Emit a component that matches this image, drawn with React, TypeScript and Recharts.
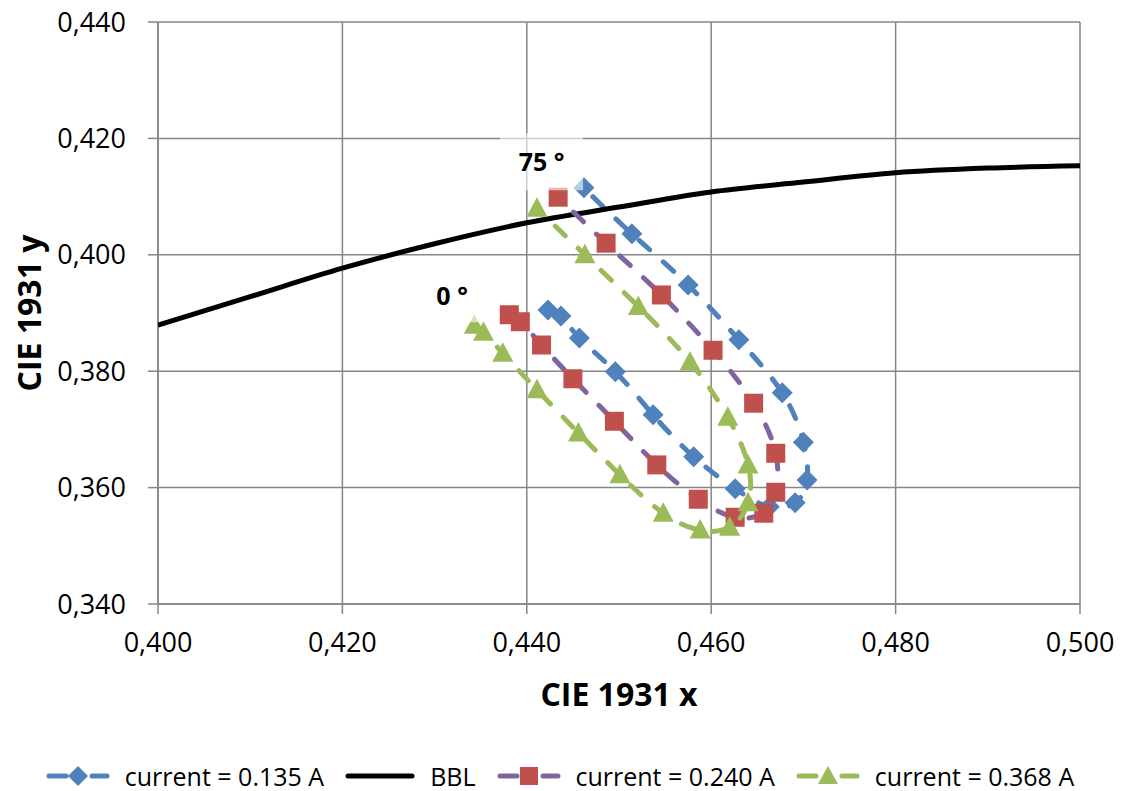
import React from 'react';
import { ScatterChart, Scatter, XAxis, YAxis, CartesianGrid, Legend, ReferenceArea } from 'recharts';

const BLUE = '#4F81BD';
const RED = '#C0504D';
const PURPLE = '#8064A2';
const GREEN = '#9BBB59';
const GRID = '#868686';
const FONT = '"Open Sans", "DejaVu Sans", sans-serif';

const xTicks = [0.4, 0.42, 0.44, 0.46, 0.48, 0.5];
const yTicks = [0.34, 0.36, 0.38, 0.4, 0.42, 0.44];

// current = 0.135 A
const x135 = [0.4423, 0.4437, 0.4457, 0.4496, 0.4537, 0.4581, 0.4626, 0.4663, 0.4691, 0.4704, 0.47, 0.4677, 0.463, 0.4575, 0.4514, 0.4462];
const y135 = [0.3905, 0.3895, 0.3857, 0.3799, 0.3725, 0.3653, 0.3598, 0.3567, 0.3574, 0.3613, 0.3678, 0.3763, 0.3854, 0.3948, 0.4036, 0.4115];

// current = 0.240 A
const x240 = [0.4381, 0.4393, 0.4416, 0.445, 0.4495, 0.4541, 0.4586, 0.4626, 0.4657, 0.467, 0.467, 0.4646, 0.4602, 0.4546, 0.4486, 0.4434];
const y240 = [0.3897, 0.3885, 0.3845, 0.3787, 0.3714, 0.3639, 0.358, 0.3549, 0.3556, 0.3592, 0.3659, 0.3745, 0.3836, 0.3931, 0.402, 0.4099];

// current = 0.368 A
const x368 = [0.4343, 0.4353, 0.4374, 0.4411, 0.4456, 0.4501, 0.4548, 0.4588, 0.462, 0.464, 0.464, 0.4618, 0.4577, 0.4521, 0.4463, 0.4411];
const y368 = [0.3879, 0.3867, 0.3831, 0.3768, 0.3694, 0.3622, 0.3556, 0.3527, 0.3532, 0.3574, 0.3639, 0.3721, 0.3816, 0.3911, 0.4, 0.408];

// BBL (black body locus)
const xBBL = [0.4, 0.41, 0.42, 0.43, 0.44, 0.45, 0.46, 0.47, 0.48, 0.49, 0.5];
const yBBL = [0.3879, 0.3928, 0.3977, 0.4019, 0.4055, 0.4082, 0.4108, 0.4125, 0.4141, 0.4149, 0.4153];

// angle annotations (data coordinates)
const annotText = ['75 °', '0 °'];
const annotX1 = [0.4371, 0.428];
const annotX2 = [0.4461, 0.4358];
const annotY1 = [0.4111, 0.3884];
const annotY2 = [0.4209, 0.3975];

const toPts = (xs: number[], ys: number[]) => xs.map((x, i) => ({ x, y: ys[i] }));

const fmt = (v: number) => v.toFixed(3).replace('.', ',');

const Diamond = (p: any) => {
  const { cx, cy } = p;
  const r = 10.5;
  return <polygon points={`${cx},${cy - r} ${cx + r},${cy} ${cx},${cy + r} ${cx - r},${cy}`} fill={BLUE} />;
};
const Square = (p: any) => {
  const { cx, cy } = p;
  const h = 9.5;
  return <rect x={cx - h} y={cy - h} width={2 * h} height={2 * h} fill={RED} />;
};
const Triangle = (p: any) => {
  const { cx, cy } = p;
  return <polygon points={`${cx},${cy - 11} ${cx + 10.5},${cy + 8.5} ${cx - 10.5},${cy + 8.5}`} fill={GREEN} />;
};
const NoShape = () => <g />;

const lineStyle = (c: string) => ({ stroke: c, strokeWidth: 5, strokeDasharray: '14 18', strokeLinecap: 'round' as const });

const legendItems = [
  { label: 'current = 0.135 A', line: BLUE, marker: 'diamond' },
  { label: 'BBL', line: '#000', marker: 'none' },
  { label: 'current = 0.240 A', line: PURPLE, marker: 'square' },
  { label: 'current = 0.368 A', line: GREEN, marker: 'triangle' },
];

const LegendIcon = ({ line, marker }: { line: string; marker: string }) => {
  if (marker === 'none') {
    return (
      <svg width={70} height={24}>
        <line x1={3} y1={12} x2={67} y2={12} stroke={line} strokeWidth={5} strokeLinecap="round" />
      </svg>
    );
  }
  return (
    <svg width={64} height={24}>
      <line x1={3} y1={12} x2={20} y2={12} stroke={line} strokeWidth={5} strokeLinecap="round" />
      <line x1={46} y1={12} x2={61} y2={12} stroke={line} strokeWidth={5} strokeLinecap="round" />
      {marker === 'diamond' && <polygon points="32,2 42,12 32,22 22,12" fill={BLUE} />}
      {marker === 'square' && <rect x={23} y={3} width={18} height={18} fill={RED} />}
      {marker === 'triangle' && <polygon points="32,2 42,20 22,20" fill={GREEN} />}
    </svg>
  );
};

const renderLegend = () => (
  <div
    style={{
      display: 'flex',
      justifyContent: 'center',
      alignItems: 'center',
      height: 30,
      paddingLeft: 40,
      fontFamily: FONT,
      fontSize: 25,
      color: '#000',
    }}
  >
    {legendItems.map((it, i) => (
      <div key={it.label} style={{ display: 'flex', alignItems: 'center', marginRight: i < legendItems.length - 1 ? 21 : 0 }}>
        <LegendIcon line={it.line} marker={it.marker} />
        <span style={{ marginLeft: 15, whiteSpace: 'nowrap' }}>{it.label}</span>
      </div>
    ))}
  </div>
);

const YTitle = (props: any) => {
  const vb = props.viewBox || {};
  const x = vb.x + 32;
  const y = vb.y + vb.height / 2;
  return (
    <text x={x} y={y} transform={`rotate(-90, ${x}, ${y})`} textAnchor="middle" dominantBaseline="middle"
      fontFamily={FONT} fontWeight="bold" fontSize={32} fill="#000">
      CIE 1931 y
    </text>
  );
};

const XTitle = (props: any) => {
  const vb = props.viewBox || {};
  const x = vb.x + vb.width / 2;
  const y = vb.y + 93;
  return (
    <text x={x} y={y} textAnchor="middle" dominantBaseline="middle"
      fontFamily={FONT} fontWeight="bold" fontSize={32} fill="#000">
      CIE 1931 x
    </text>
  );
};

export default function App() {
  const tickStyle = { fill: '#000', fontSize: 27, fontFamily: FONT };
  return (
    <div style={{ width: 1124, height: 791, background: '#fff', marginTop: -8, marginLeft: -8 }}>
      <ScatterChart width={1124} height={791} margin={{ top: 22, right: 44, left: 0, bottom: 0 }}>
        <CartesianGrid stroke={GRID} strokeWidth={1.5} horizontalValues={yTicks} verticalValues={xTicks} />
        <XAxis
          type="number"
          dataKey="x"
          domain={[0.4, 0.5]}
          ticks={xTicks}
          tickFormatter={fmt}
          height={157}
          tickSize={10}
          tickMargin={19}
          tick={tickStyle}
          stroke={GRID}
          strokeWidth={1.5}
          allowDataOverflow
          label={{ content: XTitle }}
        />
        <YAxis
          type="number"
          dataKey="y"
          domain={[0.34, 0.44]}
          ticks={yTicks}
          tickFormatter={fmt}
          width={158}
          tickSize={10}
          tickMargin={22}
          tick={tickStyle}
          stroke={GRID}
          strokeWidth={1.5}
          allowDataOverflow
          label={{ content: YTitle }}
        />
        <Scatter name="current = 0.135 A" data={toPts(x135, y135)} shape={Diamond}
          line={lineStyle(BLUE)} lineJointType="natural" isAnimationActive={false} />
        <Scatter name="BBL" data={toPts(xBBL, yBBL)} shape={NoShape}
          line={{ stroke: '#000', strokeWidth: 5 }} lineJointType="monotoneX" isAnimationActive={false} />
        <Scatter name="current = 0.240 A" data={toPts(x240, y240)} shape={Square}
          line={lineStyle(PURPLE)} lineJointType="natural" isAnimationActive={false} />
        <Scatter name="current = 0.368 A" data={toPts(x368, y368)} shape={Triangle}
          line={lineStyle(GREEN)} lineJointType="natural" isAnimationActive={false} />
        {annotText.map((t, i) => (
          <ReferenceArea
            key={t}
            x1={annotX1[i]}
            x2={annotX2[i]}
            y1={annotY1[i]}
            y2={annotY2[i]}
            fill="#fff"
            fillOpacity={0.6}
            stroke="none"
            zIndex={700}
            label={{ value: t, position: 'center', fontFamily: FONT, fontWeight: 'bold', fontSize: 25, fill: '#000' }}
          />
        ))}
        <Legend verticalAlign="bottom" content={renderLegend} />
      </ScatterChart>
    </div>
  );
}
